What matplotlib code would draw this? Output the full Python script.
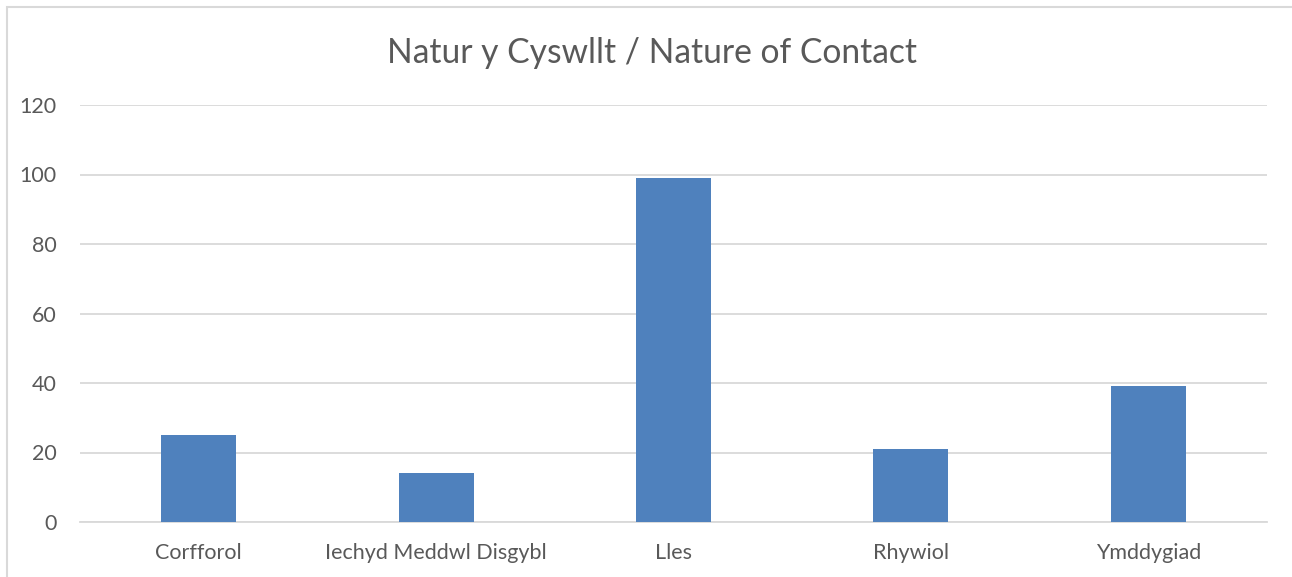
import matplotlib.pyplot as plt
from matplotlib.patches import Rectangle

categories = ["Corfforol", "Iechyd Meddwl Disgybl", "Lles", "Rhywiol", "Ymddygiad"]
counts = [25, 14, 99, 21, 39]
y_ticks = [0, 20, 40, 60, 80, 100, 120]

plt.rcParams['font.family'] = ['Lato', 'DejaVu Sans']
text_col = '#595959'

fig = plt.figure(figsize=(12.92, 5.77), dpi=100)
W, H = 1292, 577
ax = fig.add_axes([80 / W, 1 - 522 / H, (1267 - 80) / W, (522 - 105) / H])

x = range(len(categories))
ax.bar(x, counts, width=0.316, color='#4F81BD', zorder=3)

ax.set_xlim(-0.5, len(categories) - 0.5)
ax.set_ylim(0, 120)
ax.set_yticks(y_ticks)
ax.set_xticks(list(x))
ax.set_xticklabels(categories)
ax.yaxis.grid(True, color='#D9D9D9', linewidth=1.3, zorder=0)
ax.tick_params(length=0, labelsize=15.5, labelcolor=text_col)
ax.tick_params(axis='x', pad=15)
ax.tick_params(axis='y', pad=17)
for side in ['top', 'right', 'left']:
    ax.spines[side].set_visible(False)
ax.spines['bottom'].set_color('#D9D9D9')
ax.spines['bottom'].set_linewidth(1.3)

fig.text(652 / W, 1 - 53 / H, "Natur y Cyswllt / Nature of Contact",
         ha='center', va='center', fontsize=24.2, color=text_col)

# chart border (left and top edges visible)
fig.patches.append(Rectangle((7 / W, -0.1), 1.2, 1 - 7 / H + 0.1,
                             transform=fig.transFigure, fill=False,
                             edgecolor='#D9D9D9', linewidth=1.5))

fig.savefig('out.png', dpi=100)
